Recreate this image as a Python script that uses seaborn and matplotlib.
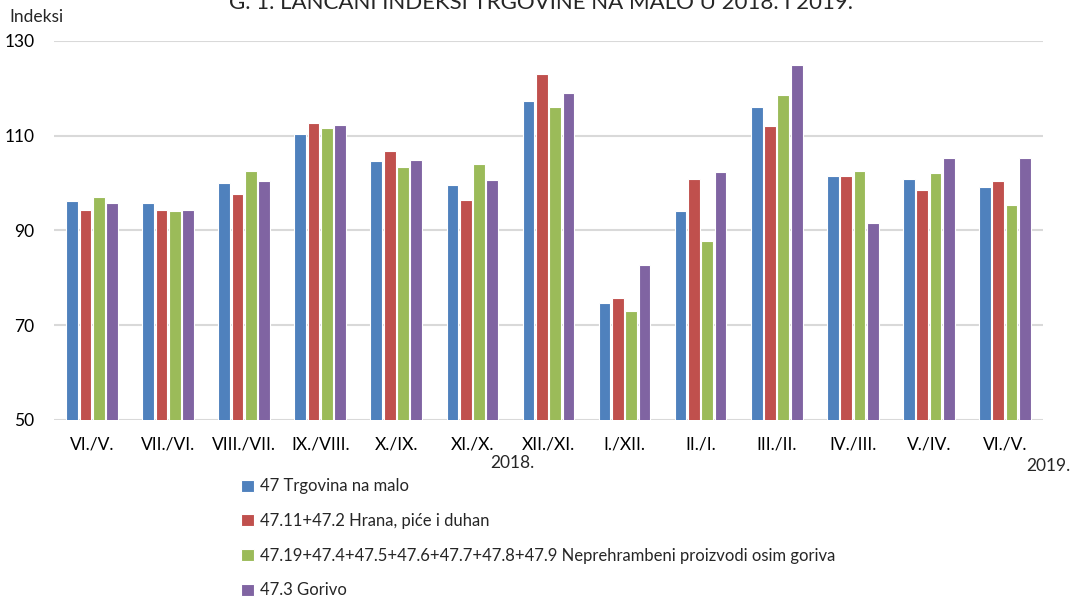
import matplotlib
matplotlib.use('Agg')
import matplotlib.pyplot as plt
import pandas as pd
import seaborn as sns

# Data
periods = ['VI./V.', 'VII./VI.', 'VIII./VII.', 'IX./VIII.', 'X./IX.', 'XI./X.', 'XII./XI.',
           'I./XII.', 'II./I.', 'III./II.', 'IV./III.', 'V./IV.', 'VI./V.']
series_names = ['47 Trgovina na malo',
                '47.11+47.2 Hrana, piće i duhan',
                '47.19+47.4+47.5+47.6+47.7+47.8+47.9 Neprehrambeni proizvodi osim goriva',
                '47.3 Gorivo']
trgovina = [96.2, 95.8, 100.0, 110.4, 104.6, 99.5, 117.3, 74.7, 94.2, 116.1, 101.4, 100.9, 99.1]
hrana = [94.4, 94.4, 97.7, 112.7, 106.7, 96.5, 123.0, 75.8, 100.9, 112.0, 101.4, 98.6, 100.4]
neprehrambeni = [97.0, 94.2, 102.5, 111.7, 103.4, 104.1, 116.1, 73.0, 87.8, 118.6, 102.5, 102.1, 95.4]
gorivo = [95.8, 94.4, 100.4, 112.2, 104.9, 100.7, 119.1, 82.7, 102.3, 124.9, 91.5, 105.3, 105.3]
colors = ['#4F81BD', '#C0504D', '#9BBB59', '#8064A2']

# Long table for seaborn; position index keeps the repeated 'VI./V.' apart
rows = []
for name, vals in zip(series_names, [trgovina, hrana, neprehrambeni, gorivo]):
    for i, v in enumerate(vals):
        rows.append({'pos': i, 'series': name, 'value': v})
df = pd.DataFrame(rows)

sns.set_style('white')
plt.rcParams['font.family'] = ['Lato', 'DejaVu Sans']

fig = plt.figure(figsize=(10.71, 5.98), dpi=100)
ax = fig.add_axes([0.0504, 0.2977, 0.9234, 0.6338])

sns.barplot(data=df, x='pos', y='value', hue='series', hue_order=series_names,
            palette=colors, saturation=1, width=0.7, gap=0.12, ax=ax,
            edgecolor='white', linewidth=0.8, legend=True)

ax.set_ylim(50, 130)
ax.set_xlim(-0.5, 12.5)
ax.set_yticks([50, 70, 90, 110, 130])
ax.set_xticks(range(len(periods)))
ax.set_xticklabels(periods)
ax.yaxis.grid(True, color='#D9D9D9', linewidth=1.5)
ax.set_axisbelow(True)
for s in ax.spines.values():
    s.set_visible(False)
ax.tick_params(axis='both', length=0, labelsize=12.5, colors='black')
ax.tick_params(axis='y', pad=14)
ax.tick_params(axis='x', pad=12)
ax.set_xlabel('')
ax.set_ylabel('')

handles, labels = ax.get_legend_handles_labels()
ax.get_legend().remove()
fig.legend(handles, labels, loc='upper left', bbox_to_anchor=(0.219, 0.211),
           frameon=False, fontsize=12, handlelength=0.75, handleheight=0.75,
           handletextpad=0.4, labelspacing=1.12, borderaxespad=0)

fig.text(0.009, 0.972, 'Indeksi', fontsize=12.5, va='center', ha='left')
fig.text(0.478, 0.226, '2018.', fontsize=12.5, va='center', ha='center')
fig.text(0.958, 0.221, '2019.', fontsize=12.5, va='center', ha='left')
fig.text(0.505, 0.985, 'G. 1. LANČANI INDEKSI TRGOVINE NA MALO U 2018. I 2019.',
         fontsize=16, va='baseline', ha='center')

fig.savefig('out.png', dpi=100)
